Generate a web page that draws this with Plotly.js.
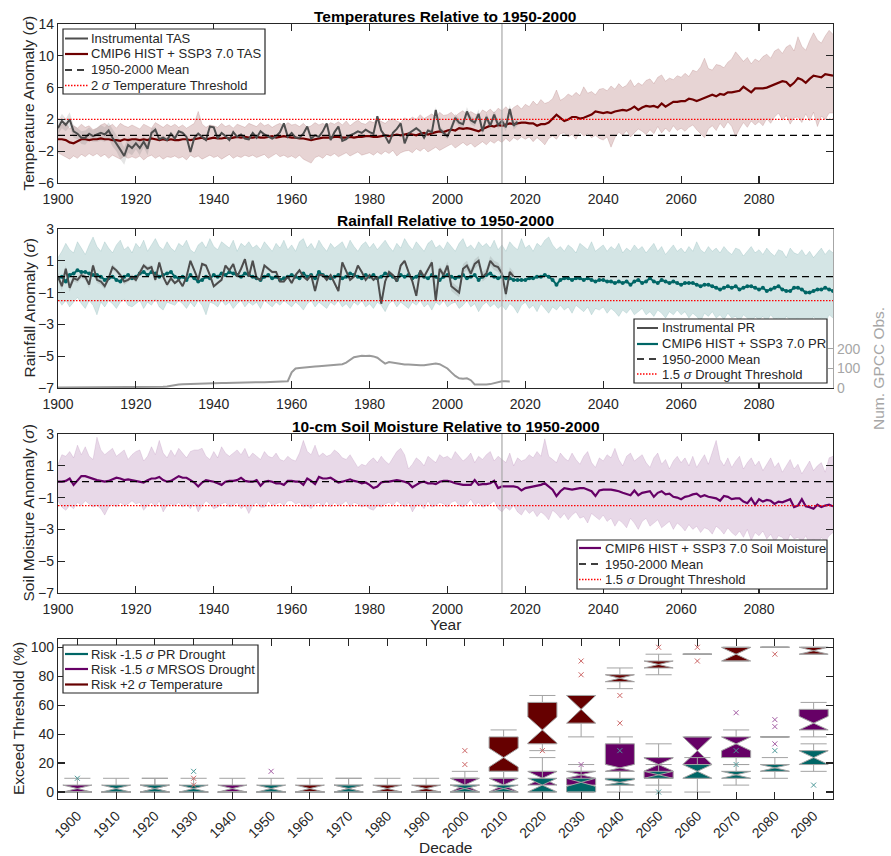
<!DOCTYPE html>
<html><head><meta charset="utf-8">
<script src="https://cdn.plot.ly/plotly-3.0.1.min.js"></script>
<style>html,body{margin:0;padding:0;background:#fff}#chart{width:891px;height:856px}</style>
</head><body><div id="chart"></div>
<script>
// ---------------- DATA ----------------
const firstYear = 1900, lastYear = 2099, splitYear = 2014;
const meanLevel = 0, tempThreshold = 2, droughtThreshold = -1.5;

// Temperature (sigma), CMIP6 multi-model mean and spread, 1900-2099
const tasMean = [
-0.5,-0.5,-0.6,-0.9,-1.0,-0.8,-0.5,-0.5,-0.6,-0.5,
-0.5,-0.4,-0.5,-0.5,-0.6,-0.6,-0.7,-0.5,-0.6,-0.5,
-0.5,-0.6,-0.5,-0.6,-0.4,-0.5,-0.6,-0.5,-0.6,-0.5,
-0.6,-0.6,-0.5,-0.5,-0.6,-0.5,-0.4,-0.3,-0.5,-0.4,
-0.3,-0.4,-0.4,-0.3,-0.4,-0.3,-0.2,-0.3,-0.2,-0.3,
-0.3,-0.2,-0.3,-0.3,-0.2,-0.1,-0.3,-0.2,-0.1,-0.2,
-0.3,-0.3,-0.4,-0.4,-0.5,-0.6,-0.5,-0.4,-0.3,-0.3,
-0.3,-0.2,-0.2,-0.3,-0.3,-0.2,-0.3,-0.2,-0.2,-0.1,
-0.1,-0.2,-0.2,-0.1,0.0,-0.1,0.0,0.1,0.0,0.1,
0.2,0.1,0.0,0.2,0.3,0.1,0.3,0.4,0.5,0.4,
0.6,0.7,0.6,0.9,0.8,0.9,0.8,0.6,0.5,0.8,
1.0,1.2,1.1,1.3,1.2,1.4,1.5,1.4,1.5,1.6,
1.6,1.5,1.5,1.2,1.4,1.4,1.6,2.1,2.6,2.2,
1.8,2.0,2.3,2.3,2.1,2.2,2.4,2.6,3.0,2.9,
2.8,2.9,2.8,3.0,3.1,3.2,3.1,3.3,3.6,3.2,
3.5,3.7,3.6,3.7,3.5,4.0,3.6,3.9,4.2,4.2,
4.3,4.3,4.6,4.5,4.3,4.5,4.7,5.0,5.1,4.9,
5.2,5.1,5.4,5.4,5.5,5.6,6.1,5.7,5.4,5.9,
5.9,5.9,6.0,6.2,6.3,6.5,6.8,6.7,6.2,6.6,
7.2,7.0,6.6,7.1,7.5,7.4,7.3,7.7,7.6,7.5];
const tasUpper = [
1.0,1.3,1.6,0.8,1.2,0.9,1.4,1.0,1.2,0.7,
0.9,1.3,1.5,1.1,1.4,0.9,1.5,1.2,1.0,1.3,
1.1,0.8,1.4,1.2,0.9,1.6,1.3,1.0,1.4,1.1,
1.4,1.0,1.3,0.9,1.2,1.5,3.0,1.4,1.0,1.3,
1.2,1.0,1.5,1.1,1.3,0.9,1.4,1.2,1.0,1.5,
1.3,1.1,1.6,1.2,1.4,1.0,1.3,1.5,1.1,1.6,
1.3,1.4,1.1,1.5,1.0,1.2,1.6,1.3,1.5,1.2,
1.6,1.4,1.7,1.3,1.8,1.2,1.6,1.9,1.5,1.4,
1.8,1.6,2.0,1.7,1.5,1.9,2.1,1.8,1.6,2.2,
1.9,2.3,2.0,2.6,2.1,2.4,2.7,2.2,2.9,2.5,
2.6,2.9,2.4,2.8,3.1,2.6,3.0,2.7,2.5,3.2,
2.9,3.3,2.8,3.4,3.1,3.6,3.0,3.5,3.8,3.3,
3.9,3.6,4.3,3.8,4.5,4.0,4.2,4.6,5.7,4.4,
4.7,5.2,4.9,5.4,5.0,6.1,5.3,5.5,5.1,5.8,
5.9,5.6,6.2,5.8,6.5,6.0,6.3,7.0,6.1,6.6,
6.3,6.9,7.1,6.5,7.3,7.6,6.8,7.2,7.0,7.5,
7.3,7.8,7.4,8.2,8.0,8.6,9.7,8.4,8.2,8.9,
8.8,8.5,9.2,9.6,10.5,9.9,9.3,9.8,9.0,9.6,
9.3,9.9,10.2,9.7,10.6,10.9,10.3,11.1,11.4,10.6,
12.4,11.2,10.7,11.9,12.9,12.0,11.6,12.5,13.2,12.7];
const tasLower = [
-2.2,-2.5,-2.8,-3.0,-2.6,-2.9,-2.4,-2.7,-2.3,-2.6,
-2.3,-2.7,-2.4,-2.9,-2.5,-2.8,-3.0,-2.6,-2.9,-2.7,
-2.9,-2.6,-3.1,-2.7,-2.5,-2.9,-2.6,-3.0,-2.7,-2.8,
-2.6,-2.9,-2.7,-3.1,-2.5,-2.8,-2.6,-3.0,-2.7,-2.5,
-2.8,-2.6,-3.0,-2.7,-2.4,-2.9,-2.6,-2.8,-2.5,-2.7,
-2.5,-2.8,-2.6,-2.4,-2.9,-2.6,-2.3,-2.7,-2.5,-2.8,
-2.6,-2.9,-2.5,-3.0,-3.2,-3.5,-2.8,-2.6,-2.9,-2.4,
-2.6,-2.3,-2.7,-2.5,-2.2,-2.6,-2.4,-2.1,-2.5,-2.3,
-2.2,-2.5,-2.1,-2.4,-2.0,-2.3,-1.9,-2.6,-2.2,-2.0,
-1.9,-2.2,-1.7,-2.0,-1.6,-2.1,-1.8,-1.5,-1.9,-1.6,
-1.4,-1.1,-1.6,-1.2,-0.9,-1.3,-1.0,-1.5,-1.1,-0.8,
-1.2,-0.7,-1.0,-0.6,-0.9,-0.4,-0.8,-0.3,-0.6,-0.2,
-0.5,-0.2,-0.8,-0.3,-0.7,-1.2,-0.4,-0.1,-0.5,0.2,
0.3,-0.2,0.1,-0.5,0.4,-0.1,0.2,-0.3,0.0,-0.4,
-0.6,-0.2,-1.5,-0.3,0.4,0.0,0.6,-0.2,0.3,0.8,
0.5,0.1,0.7,0.2,1.1,0.3,0.9,0.4,1.2,0.6,
0.9,0.5,1.0,1.3,0.7,0.2,-0.3,0.8,1.2,0.6,
1.5,0.9,1.7,1.1,-0.2,0.8,1.6,1.0,1.8,1.3,
1.7,1.2,2.1,1.5,2.3,2.8,1.9,2.5,1.4,2.2,
2.3,1.6,2.7,1.8,2.9,1.1,2.4,2.0,2.8,2.8];

// Instrumental temperature (sigma), 1900-2018, and its uncertainty half-width
const tasInst = [
0.9,1.8,1.3,2.0,0.5,0.2,-0.3,-0.3,0.2,-0.1,
0.1,0.3,0.1,0.6,-0.3,-1.0,-1.8,-2.6,-1.2,-1.6,
-1.0,-1.6,-0.8,-1.7,0.3,0.7,-0.5,-0.3,-0.6,0.2,
-0.4,0.5,0.3,-0.2,-2.1,-0.3,0.2,-0.2,-0.6,1.1,
1.0,-0.4,0.3,-0.1,-0.6,0.4,-0.2,0.1,-0.4,-0.5,
0.3,-0.3,0.5,0.1,-0.2,-0.4,-0.1,0.4,1.5,-0.2,
0.3,-0.3,-0.3,0.2,1.1,-0.4,0.0,-0.2,0.5,1.5,
-0.6,0.4,1.1,-0.7,-0.5,0.0,0.2,0.5,0.3,0.7,
0.4,0.2,2.4,0.6,-0.1,-1.0,0.3,0.8,1.5,-1.0,
0.2,0.6,0.9,0.5,-0.3,0.6,0.4,3.2,0.8,0.3,
-0.1,0.9,2.2,1.6,1.4,3.0,1.9,1.6,2.7,0.5,
2.3,1.2,2.6,1.3,1.8,1.0,3.3,1.2,1.7];
const tasInstSpread = [
0.8,0.9,0.8,0.9,0.8,0.7,0.8,0.9,0.8,0.7,
0.9,1.0,0.9,1.0,1.1,1.0,1.2,1.1,1.0,0.9,
0.8,0.9,0.7,0.8,0.6,0.4,0.3,0.3,0.3,0.3,
0.3,0.2,0.2,0.2,0.2,0.2,0.2,0.2,0.2,0.2,
0.15,0.15,0.15,0.15,0.15,0.15,0.15,0.15,0.15,0.15,
0.15,0.15,0.15,0.15,0.15,0.15,0.15,0.15,0.15,0.15,
0.15,0.15,0.15,0.15,0.15,0.15,0.15,0.15,0.15,0.15,
0.15,0.15,0.15,0.15,0.15,0.15,0.15,0.15,0.15,0.15,
0.15,0.15,0.15,0.15,0.15,0.15,0.15,0.15,0.15,0.15,
0.15,0.15,0.2,0.2,0.2,0.25,0.3,0.35,0.35,0.4,
0.4,0.45,0.5,0.5,0.5,0.55,0.5,0.5,0.55,0.5,
0.5,0.5,0.55,0.5,0.5,0.5,0.55,0.5,0.5];

// Rainfall (sigma), CMIP6 mean and spread, 1900-2099
const prMean = [
-0.1,0.0,-0.3,0.1,0.2,0.4,0.3,0.3,0.2,0.1,
0.1,0.0,-0.2,-0.1,0.0,-0.2,-0.3,0.0,0.1,-0.1,
0.0,0.2,0.3,0.1,0.3,0.2,0.0,0.1,0.2,0.3,
0.0,-0.1,0.0,-0.2,0.1,-0.1,-0.3,-0.2,0.0,-0.1,
0.1,0.0,0.2,0.1,0.3,0.2,0.1,0.0,0.2,0.1,
0.0,-0.1,-0.2,0.0,0.1,-0.1,0.0,-0.2,-0.1,0.0,
0.1,0.0,-0.1,0.2,0.0,0.1,-0.1,0.3,0.1,0.0,
-0.1,0.0,0.1,-0.1,0.0,0.2,0.1,0.0,-0.1,0.1,
0.0,0.1,-0.1,0.0,0.2,0.1,0.0,-0.2,0.1,0.0,
0.1,-0.1,0.0,0.2,0.0,-0.1,0.1,0.0,-0.2,0.0,
0.1,0.0,-0.1,0.0,0.1,-0.1,0.0,0.1,-0.2,0.0,
0.1,0.2,0.0,-0.1,0.0,-0.1,-0.1,-0.2,-0.2,-0.2,
-0.2,-0.1,-0.1,0.0,0.0,0.1,0.0,-0.2,-0.5,-0.2,
-0.1,-0.1,-0.2,-0.1,-0.1,-0.2,-0.1,-0.2,-0.3,-0.2,
-0.2,-0.3,-0.3,-0.4,-0.3,-0.4,-0.3,-0.5,-0.3,-0.2,
-0.4,-0.3,-0.1,-0.3,-0.4,-0.2,-0.3,-0.4,-0.3,-0.4,
-0.5,-0.4,-0.4,-0.4,-0.5,-0.6,-0.5,-0.5,-0.6,-0.7,
-0.8,-0.7,-0.6,-0.7,-0.6,-0.8,-0.7,-0.6,-0.6,-0.7,
-0.8,-0.7,-0.9,-0.8,-0.7,-0.6,-0.8,-0.9,-0.9,-0.7,
-0.7,-0.8,-1.0,-1.0,-0.9,-0.8,-0.8,-0.7,-0.8,-0.9];
const prUpper = [
1.2,1.6,2.1,1.7,1.5,2.2,1.8,1.4,2.0,2.5,
1.9,1.6,2.2,1.8,1.5,2.0,2.3,1.7,1.9,1.5,
2.1,1.8,2.3,1.6,2.0,2.4,1.9,1.7,2.2,1.8,
1.6,2.1,1.9,2.3,1.7,1.5,2.0,2.2,1.8,2.4,
1.9,1.7,2.2,2.0,1.8,2.3,1.6,2.1,1.9,2.2,
1.8,2.0,1.7,2.2,1.9,1.6,2.1,1.8,2.3,1.7,
2.0,1.6,2.2,2.4,1.8,2.1,1.7,2.3,1.9,1.6,
2.1,1.8,2.0,2.2,1.7,2.3,1.9,1.6,2.0,2.2,
1.8,2.1,1.7,2.0,2.3,1.9,1.6,2.1,1.8,2.4,
2.0,1.7,2.2,1.9,1.6,2.1,2.3,1.8,2.0,1.7,
2.2,1.9,1.6,2.1,2.4,1.8,2.0,1.7,2.2,1.9,
2.1,1.8,2.3,1.7,2.0,1.6,2.2,1.9,1.7,2.4,
1.8,2.0,1.6,2.1,1.9,2.3,2.5,2.0,1.7,1.9,
1.6,2.0,1.8,1.5,2.1,1.9,1.7,2.2,1.6,1.8,
2.0,1.6,1.9,1.7,2.1,1.5,1.8,1.6,2.0,1.7,
1.9,1.5,1.8,2.1,1.6,1.9,1.4,1.7,2.0,1.6,
1.8,1.5,1.9,1.6,2.2,1.7,1.5,1.9,1.6,1.8,
1.5,1.9,1.6,1.4,1.8,1.7,1.3,1.6,1.9,1.5,
1.7,1.4,1.8,1.5,1.3,1.7,1.6,1.2,1.8,1.5,
1.4,1.7,1.3,1.6,1.2,1.5,1.8,1.4,1.7,1.5];
const prLower = [
-1.4,-1.8,-1.5,-1.9,-1.6,-1.3,-1.7,-2.0,-1.5,-1.8,
-2.4,-1.6,-1.9,-1.5,-1.7,-2.0,-1.6,-1.4,-1.8,-1.9,
-1.7,-1.5,-2.0,-1.6,-1.8,-1.4,-1.9,-2.1,-1.6,-1.7,
-1.8,-1.5,-1.7,-2.0,-1.6,-1.9,-1.5,-1.8,-2.4,-1.6,
-1.7,-1.9,-1.5,-1.8,-1.6,-2.0,-1.7,-1.5,-1.9,-1.6,
-1.8,-1.6,-2.0,-1.5,-1.7,-1.9,-1.6,-1.8,-1.5,-1.7,
-1.9,-1.6,-1.8,-2.1,-1.7,-1.5,-1.9,-1.6,-1.8,-2.0,
-1.6,-1.8,-1.5,-1.9,-1.7,-2.0,-1.6,-1.8,-1.5,-1.9,
-1.7,-2.0,-1.6,-1.8,-2.2,-1.7,-1.5,-1.9,-1.6,-1.8,
-2.0,-1.6,-1.8,-1.5,-1.9,-1.7,-2.1,-1.6,-1.8,-1.5,
-1.9,-1.7,-1.6,-2.0,-1.8,-1.5,-1.9,-1.7,-2.2,-1.8,
-1.6,-1.9,-1.7,-2.0,-1.8,-2.1,-1.7,-1.9,-2.3,-1.8,
-1.6,-2.0,-1.8,-2.2,-1.7,-2.0,-2.3,-1.9,-2.1,-1.8,
-2.1,-1.9,-2.3,-1.8,-2.0,-2.2,-1.9,-2.4,-2.0,-2.1,
-1.9,-2.3,-2.0,-2.2,-2.5,-2.1,-2.3,-2.0,-2.4,-2.2,
-2.0,-2.4,-2.2,-2.5,-2.1,-2.3,-2.6,-2.2,-2.4,-2.1,
-2.4,-2.2,-2.6,-2.3,-2.5,-2.8,-2.3,-2.5,-2.2,-2.6,
-2.4,-2.7,-2.3,-2.6,-2.5,-2.8,-2.4,-2.6,-2.9,-2.5,
-2.7,-2.5,-2.8,-2.4,-2.7,-2.6,-3.0,-2.5,-2.7,-2.8,
-2.6,-2.9,-2.7,-3.0,-2.5,-2.8,-2.6,-2.9,-2.4,-2.6];

// Instrumental rainfall (sigma), 1900-2017, and its half-width
const prInst = [
0.0,-0.6,0.5,-0.7,-0.1,-0.2,0.1,0.0,-0.5,0.7,
-0.2,-0.3,-0.6,-0.1,0.6,0.4,0.1,-0.3,-0.2,0.0,
-0.2,0.3,0.7,0.5,0.6,-0.2,0.9,0.0,-0.5,-0.1,
-0.4,-0.2,-0.6,0.0,1.0,0.4,-0.2,0.8,0.7,0.1,
-0.6,-0.4,-0.2,0.7,0.4,0.8,0.0,0.5,1.1,0.0,
1.0,-0.1,-0.2,0.7,0.5,0.3,0.3,-0.3,-0.3,0.0,
-0.4,0.1,0.4,0.0,-0.2,0.1,-0.9,0.1,0.1,-0.2,
0.1,-0.4,-0.9,0.9,0.4,-0.2,0.0,0.7,0.3,-0.2,
0.1,-0.2,0.0,-1.7,-0.3,0.3,0.1,-0.3,0.7,1.0,
0.3,-0.3,-1.2,0.4,0.0,0.5,0.9,-1.5,0.5,0.1,
0.7,-0.6,-0.8,-1.0,0.5,0.7,0.2,0.8,1.0,0.0,
0.2,1.0,0.7,0.6,0.2,-1.1,0.3,0.0];
const prInstSpread = [
0.25,0.25,0.2,0.25,0.2,0.2,0.2,0.2,0.25,0.2,
0.2,0.2,0.2,0.15,0.2,0.15,0.15,0.2,0.15,0.15,
0.15,0.15,0.15,0.15,0.15,0.15,0.15,0.15,0.15,0.15,
0.1,0.1,0.1,0.1,0.1,0.1,0.1,0.1,0.1,0.1,
0.1,0.1,0.1,0.1,0.1,0.1,0.1,0.1,0.1,0.1,
0.1,0.1,0.1,0.1,0.1,0.1,0.1,0.1,0.1,0.1,
0.1,0.1,0.1,0.1,0.1,0.1,0.1,0.1,0.1,0.1,
0.1,0.1,0.1,0.1,0.1,0.1,0.1,0.1,0.1,0.1,
0.1,0.1,0.1,0.1,0.1,0.1,0.1,0.1,0.1,0.1,
0.1,0.1,0.15,0.15,0.15,0.15,0.2,0.2,0.2,0.25,
0.25,0.3,0.3,0.3,0.3,0.3,0.3,0.3,0.3,0.3,
0.3,0.3,0.3,0.3,0.3,0.3,0.3,0.3];

// Number of GPCC observations, 1900-2016
const gpccObs = [
3,3,3,3,3,3,3,3,3,3,
3,3,3,3,3,3,3,3,3,3,
3,3,3,3,3,3,4,6,8,12,
16,18,19,20,20,21,21,22,22,22,
24,24,25,25,26,26,27,27,28,28,
29,29,30,30,31,31,32,33,32,35,
80,100,103,104,106,108,110,112,114,116,
118,118,120,122,130,145,158,162,165,164,
165,162,155,140,125,133,130,125,122,120,
120,118,118,116,117,120,125,126,122,110,
100,80,62,50,48,50,40,18,17,17,
18,20,25,30,34,34,33];

// 10-cm soil moisture (sigma), CMIP6 mean and spread, 1900-2099
const soilMean = [
0.0,0.0,0.05,0.2,-0.2,0.1,0.35,0.35,0.25,0.15,
0.1,0.05,0.0,0.05,0.15,0.25,0.2,0.1,0.15,0.1,
0.05,0.0,-0.05,0.1,0.2,0.2,0.3,0.1,0.0,0.05,
0.2,0.35,0.25,0.25,0.1,-0.05,-0.3,-0.05,0.1,0.05,
0.0,-0.1,-0.2,0.0,0.05,0.05,0.1,0.25,0.05,0.0,
0.0,0.1,-0.25,0.0,0.05,0.0,-0.1,-0.1,-0.2,0.05,
0.05,0.0,0.0,-0.2,0.2,0.05,-0.15,0.3,0.2,0.2,
0.25,0.1,-0.05,0.0,0.1,0.15,0.05,0.0,-0.1,-0.05,
-0.2,-0.4,-0.3,-0.05,0.0,0.0,0.05,0.1,0.05,0.0,
-0.1,-0.35,-0.2,-0.05,0.0,-0.1,-0.1,-0.15,0.0,0.05,
0.05,0.0,-0.1,-0.15,-0.2,-0.2,-0.2,0.1,-0.2,-0.15,
-0.15,-0.1,0.05,-0.4,-0.3,-0.3,-0.3,-0.3,-0.35,-0.55,
-0.4,-0.35,-0.3,-0.25,-0.2,-0.1,-0.3,-0.5,-0.9,-0.6,
-0.4,-0.45,-0.5,-0.45,-0.4,-0.4,-0.5,-0.6,-0.9,-0.55,
-0.5,-0.5,-0.5,-0.55,-0.6,-0.7,-0.8,-0.85,-0.55,-0.85,
-0.7,-0.65,-0.6,-0.95,-0.7,-0.6,-0.8,-0.75,-0.95,-1.0,
-1.1,-0.95,-0.9,-0.8,-0.75,-0.95,-0.85,-0.95,-1.0,-1.05,
-1.2,-0.9,-0.95,-1.1,-1.05,-1.05,-1.25,-1.35,-1.05,-1.45,
-1.1,-1.25,-1.15,-1.2,-1.4,-1.25,-1.3,-1.2,-1.1,-1.6,
-1.5,-1.1,-1.55,-1.6,-1.7,-1.45,-1.6,-1.5,-1.45,-1.55];
const soilUpper = [
1.1,1.7,1.6,1.9,1.5,2.3,1.7,2.2,1.6,1.4,
2.8,2.0,1.7,1.9,2.1,1.6,1.8,2.0,1.4,1.7,
1.9,2.0,1.3,1.6,2.2,1.7,2.6,1.8,1.5,2.0,
1.6,2.1,1.8,1.5,1.9,2.0,2.0,2.1,1.6,1.4,
1.9,1.5,2.2,1.8,1.6,1.8,2.0,1.7,2.1,1.5,
1.8,1.6,1.4,1.9,1.6,1.5,1.8,1.4,1.3,1.6,
1.4,1.3,1.8,2.6,1.9,1.7,2.3,1.6,1.8,1.6,
1.7,2.0,1.8,1.5,1.4,1.7,1.3,0.9,1.1,1.0,
1.3,1.5,1.2,1.6,1.3,1.1,1.5,1.9,2.1,1.7,
0.8,1.1,1.5,1.3,1.0,1.6,1.4,1.2,1.7,1.5,
1.6,1.4,1.9,1.6,1.3,1.5,1.8,1.2,1.6,1.4,
1.7,1.9,1.3,1.6,1.4,1.2,1.8,1.0,1.5,1.3,
1.4,1.7,1.5,1.9,1.6,2.7,1.6,1.4,1.2,1.8,
1.5,1.3,1.8,1.4,1.1,1.6,1.9,1.2,0.9,1.5,
1.3,1.7,1.5,2.1,1.4,1.0,1.6,1.8,1.3,1.5,
1.7,1.2,0.9,1.5,1.8,1.1,1.4,0.8,1.3,1.6,
1.2,1.5,1.0,1.6,0.9,1.3,1.7,1.1,1.9,2.6,
1.4,1.0,1.5,0.9,1.3,1.6,0.8,1.2,1.5,1.0,
1.3,0.7,1.1,1.5,0.9,1.2,0.6,1.0,1.4,0.8,
1.1,0.5,0.9,1.3,0.7,1.0,1.2,0.6,1.5,1.6];
const soilLower = [
-1.2,-1.6,-1.8,-1.5,-1.7,-1.3,-1.5,-1.2,-1.4,-1.6,
-1.5,-1.7,-2.1,-1.6,-1.4,-1.6,-1.3,-1.5,-1.4,-1.2,
-1.4,-1.3,-1.8,-1.5,-1.3,-1.6,-1.2,-1.9,-1.5,-1.4,
-1.5,-1.3,-1.6,-1.4,-1.7,-1.3,-1.9,-1.5,-1.2,-1.4,
-1.7,-1.6,-1.4,-1.3,-1.6,-1.5,-1.3,-1.7,-1.5,-2.0,
-1.5,-1.3,-1.6,-1.6,-1.2,-1.5,-1.4,-1.3,-1.5,-1.2,
-1.2,-1.4,-1.3,-1.6,-1.5,-1.7,-1.4,-1.3,-1.6,-1.2,
-1.6,-1.3,-1.5,-1.4,-1.2,-1.6,-1.3,-1.4,-1.6,-1.5,
-1.7,-1.8,-1.5,-1.6,-1.4,-1.3,-1.5,-1.2,-1.4,-1.6,
-1.3,-1.9,-1.5,-1.4,-1.7,-1.2,-1.6,-1.5,-1.3,-1.4,
-1.6,-1.3,-1.2,-1.5,-1.6,-1.4,-1.1,-1.5,-1.3,-1.6,
-1.5,-1.4,-1.2,-1.7,-1.9,-1.6,-1.8,-1.5,-1.9,-2.1,
-1.7,-2.0,-1.8,-2.2,-1.9,-2.1,-2.4,-1.8,-2.0,-2.3,
-2.0,-2.4,-2.1,-1.9,-2.3,-2.2,-2.6,-2.0,-2.2,-2.4,
-2.1,-2.5,-2.3,-2.8,-2.4,-2.6,-2.9,-2.3,-2.6,-3.0,
-2.5,-2.3,-2.8,-2.6,-2.4,-2.9,-2.7,-2.5,-3.0,-2.6,
-2.8,-3.1,-2.7,-3.0,-2.8,-3.2,-2.9,-3.0,-3.3,-2.8,
-3.0,-3.3,-2.9,-3.2,-3.4,-3.1,-3.5,-3.0,-3.7,-3.2,
-3.4,-3.1,-3.6,-3.3,-3.8,-3.4,-3.5,-3.9,-3.3,-3.6,
-3.5,-3.8,-3.4,-3.9,-3.6,-4.0,-3.5,-3.8,-3.4,-3.2];

// Decadal risk of exceeding threshold (%), box statistics
const decades = ['1900','1910','1920','1930','1940','1950','1960','1970','1980','1990',
                 '2000','2010','2020','2030','2040','2050','2060','2070','2080','2090'];
// PR drought (teal)
const prQ1  = [0,0,0,0,0,0,0,0,0,0, 0,0,0,0,4.8,9.5,9.5,9.5,14.3,19.0];
const prMed = [0,2.4,2.4,2.4,0,2.4,0,2.4,0,0, 2.4,2.4,4.8,6.7,6.7,11.9,14.3,11.9,16.7,23.8];
const prQ3  = [0,4.8,4.8,4.8,0,4.8,0,4.8,0,0, 4.8,4.8,9.5,9.5,9.5,14.3,19.0,14.3,19.0,28.6];
const prLo  = [0,0,0,0,0,0,0,0,0,0, 0,0,0,0,0,0,0,4.8,9.5,14.3];
const prHi  = [0,9.5,9.5,9.5,0,9.5,0,9.5,0,0, 9.5,9.5,14.3,14.3,14.3,19.0,23.8,19.0,23.8,33.3];
const prNotch = [0,2.4,2.4,2.4,0,2.4,0,2.4,0,0, 2.4,2.4,4.7,2.8,1.9,2.4,4.7,2.4,2.3,4.7];
const prOutDec = ['1900','1930','2040','2050','2070','2070','2080','2090'];
const prOutVal = [9.5,14.3,28.6,0,28.6,19.0,28.6,4.8];
// MRSOS drought (purple)
const smQ1  = [0,0,0,0,0,0,0,0,0,0, 0,0,4.8,4.8,14.3,9.5,19.0,23.8,38.1,42.9];
const smMed = [2.4,0,2.4,0,2.4,0,0,2.4,0,0, 4.8,4.8,9.5,11.9,16.7,19.0,28.6,33.3,38.1,47.6];
const smQ3  = [4.8,0,4.8,0,4.8,0,0,4.8,0,0, 9.5,9.5,14.3,14.3,33.3,23.8,38.1,38.1,38.1,57.1];
const smLo  = [0,0,0,0,0,0,0,0,0,0, 0,0,0,0,4.8,4.8,9.5,19.0,38.1,38.1];
const smHi  = [9.5,0,9.5,0,9.5,0,0,9.5,0,0, 14.3,14.3,23.8,19.0,38.1,33.3,38.1,42.9,38.1,61.9];
const smNotch = [2.4,0,2.4,0,2.4,0,0,2.4,0,0, 4.7,4.7,4.7,2.4,2.4,4.5,9.5,4.7,0,4.7];
const smOutDec = ['1950','2030','2070','2080','2080','2080'];
const smOutVal = [14.3,19.0,54.8,50.0,45.2,33.3];
// +2 sigma temperature (dark red)
const tQ1  = [0,0,0,0,0,0,0,0,0,0, 0,14.3,33.3,47.6,76.2,85.7,95.2,90.5,100,95.2];
const tMed = [0,0,0,0,0,0,2.4,0,2.4,2.4, 2.4,23.8,42.9,57.1,78.6,88.1,95.2,95.2,100,97.6];
const tQ3  = [0,0,0,0,0,0,4.8,0,4.8,4.8, 4.8,38.1,61.9,66.7,81.0,90.5,95.2,100,100,100];
const tLo  = [0,0,0,0,0,0,0,0,0,0, 0,9.5,28.6,38.1,71.4,81.0,95.2,90.5,100,95.2];
const tHi  = [0,0,0,0,0,0,9.5,0,9.5,9.5, 9.5,42.9,66.7,66.7,85.7,95.2,95.2,100,100,100];
const tNotch = [0,0,0,0,0,0,2.4,0,2.4,2.4, 2.4,6.5,9.0,9.5,2.4,2.4,0,4.7,0,2.4];
const tOutDec = ['1930','1930','2000','2000','2020','2030','2030','2040','2040','2050','2060','2060','2080'];
const tOutVal = [9.5,4.8,28.6,19.0,28.6,90.5,81.0,66.7,47.6,100,100,90.5,95.2];

// ---------------- STYLE / LAYOUT ----------------
const W = 891, H = 856;
const px = v => v / W, py = v => 1 - v / H;
const FONT = '"Liberation Sans", Arial, Helvetica, sans-serif';
const INK = '#262626';
const C_TAS = '#6e0000', C_PR = '#006666', C_SM = '#660066', C_INST = '#4d4d4d', C_GPCC = '#9a9a9a';
const DASH = '7px,5px', DOT = '1.5px,1.5px';
const yearsOf = arr => arr.map((_, i) => firstYear + i);
const yrs = yearsOf(tasMean), tasInstYrs = yearsOf(tasInst), prInstYrs = yearsOf(prInst), gpccYrs = yearsOf(gpccObs);
const plus = (a, s) => a.map((v, i) => v + s[i]);
const minus = (a, s) => a.map((v, i) => v - s[i]);

function band(x, lo, hi, xa, ya, fill, edge) {
  return [
    {x: x, y: lo, xaxis: xa, yaxis: ya, mode: 'lines', line: {width: edge ? 0.6 : 0, color: edge || 'rgba(0,0,0,0)'}, hoverinfo: 'skip', showlegend: false},
    {x: x, y: hi, xaxis: xa, yaxis: ya, mode: 'lines', fill: 'tonexty', fillcolor: fill, line: {width: edge ? 0.6 : 0, color: edge || 'rgba(0,0,0,0)'}, hoverinfo: 'skip', showlegend: false}
  ];
}
function hline(level, xa, ya, color, dash, width) {
  return {x: [firstYear, lastYear], y: [level, level], xaxis: xa, yaxis: ya, mode: 'lines',
          line: {color: color, dash: dash, width: width}, hoverinfo: 'skip', showlegend: false};
}
function boxTrace(q1, med, q3, lo, hi, notch, color) {
  return {type: 'box', x: decades, q1: q1, median: med, q3: q3, lowerfence: lo, upperfence: hi,
          notchspan: notch, notched: true, notchwidth: 0.5, width: 0.75, whiskerwidth: 0.9,
          xaxis: 'x4', yaxis: 'y4', fillcolor: color, line: {color: '#a3a3a3', width: 1},
          boxpoints: false, hoverinfo: 'skip', showlegend: false};
}
function outliers(xs, ys, color) {
  return {x: xs, y: ys, xaxis: 'x4', yaxis: 'y4', mode: 'markers', hoverinfo: 'skip', showlegend: false,
          marker: {symbol: 'x-thin-open', size: 5, color: color, line: {width: 1, color: color}}};
}

const traces = [].concat(
  // Panel 1
  band(yrs, tasLower, tasUpper, 'x', 'y', 'rgba(112,0,0,0.17)', 'rgba(112,0,0,0.22)'),
  band(tasInstYrs, minus(tasInst, tasInstSpread), plus(tasInst, tasInstSpread), 'x', 'y', 'rgba(120,120,120,0.2)', null),
  [{x: yrs, y: tasMean, xaxis: 'x', yaxis: 'y', mode: 'lines', line: {color: C_TAS, width: 2.2}, hoverinfo: 'skip', showlegend: false},
   {x: tasInstYrs, y: tasInst, xaxis: 'x', yaxis: 'y', mode: 'lines', line: {color: C_INST, width: 2}, hoverinfo: 'skip', showlegend: false},
   hline(meanLevel, 'x', 'y', '#000', DASH, 1.3),
   hline(tempThreshold, 'x', 'y', '#ff0000', DOT, 1.3)],
  // Panel 2
  band(yrs, prLower, prUpper, 'x2', 'y2', 'rgba(0,102,102,0.17)', 'rgba(0,102,102,0.2)'),
  band(prInstYrs, minus(prInst, prInstSpread), plus(prInst, prInstSpread), 'x2', 'y2', 'rgba(120,120,120,0.2)', null),
  [{x: yrs, y: prMean, xaxis: 'x2', yaxis: 'y2', mode: 'lines+markers', line: {color: C_PR, width: 2}, marker: {size: 4, color: C_PR}, hoverinfo: 'skip', showlegend: false},
   {x: prInstYrs, y: prInst, xaxis: 'x2', yaxis: 'y2', mode: 'lines', line: {color: C_INST, width: 2}, hoverinfo: 'skip', showlegend: false},
   hline(meanLevel, 'x2', 'y2', '#000', DASH, 1.3),
   hline(droughtThreshold, 'x2', 'y2', '#ff0000', DOT, 1.3),
   {x: gpccYrs, y: gpccObs, xaxis: 'x2', yaxis: 'y5', mode: 'lines', line: {color: C_GPCC, width: 2}, hoverinfo: 'skip', showlegend: false}],
  // Panel 3
  band(yrs, soilLower, soilUpper, 'x3', 'y3', 'rgba(102,0,102,0.15)', 'rgba(102,0,102,0.18)'),
  [{x: yrs, y: soilMean, xaxis: 'x3', yaxis: 'y3', mode: 'lines', line: {color: C_SM, width: 2.2}, hoverinfo: 'skip', showlegend: false},
   hline(meanLevel, 'x3', 'y3', '#000', DASH, 1.3),
   hline(droughtThreshold, 'x3', 'y3', '#ff0000', DOT, 1.3)],
  // Panel 4
  [boxTrace(tQ1, tMed, tQ3, tLo, tHi, tNotch, '#660000'),
   boxTrace(smQ1, smMed, smQ3, smLo, smHi, smNotch, C_SM),
   boxTrace(prQ1, prMed, prQ3, prLo, prHi, prNotch, C_PR),
   outliers(tOutDec, tOutVal, '#cc6666'),
   outliers(smOutDec, smOutVal, '#a35ca3'),
   outliers(prOutDec, prOutVal, '#4d9999')]
);

const xDom = [px(58), px(833)];
const yearTicks = [1900, 1920, 1940, 1960, 1980, 2000, 2020, 2040, 2060, 2080];
const baseAx = {showline: true, linecolor: INK, linewidth: 1.2, ticks: 'inside', ticklen: 7, tickcolor: INK,
  tickwidth: 1.2, mirror: 'ticks', showgrid: false, zeroline: false, tickfont: {size: 14, color: INK, family: FONT}, fixedrange: true};
const xYear = (anchor) => Object.assign({}, baseAx, {domain: xDom, anchor: anchor, range: [firstYear, lastYear], tickvals: yearTicks, ticklabelstandoff: 3});

const layout = {
  width: W, height: H, margin: {l: 0, r: 0, t: 0, b: 0}, paper_bgcolor: '#fff', plot_bgcolor: '#fff',
  font: {family: FONT, color: INK}, showlegend: false, boxmode: 'overlay',
  xaxis: xYear('y'),
  yaxis: Object.assign({}, baseAx, {domain: [py(183), py(24)], anchor: 'x', range: [-6, 14], tickvals: [-6, -2, 2, 6, 10, 14]}),
  xaxis2: xYear('y2'),
  yaxis2: Object.assign({}, baseAx, {domain: [py(388), py(229)], anchor: 'x2', range: [-7, 3], tickvals: [-7, -5, -3, -1, 1, 3], mirror: false}),
  yaxis5: {overlaying: 'y2', anchor: 'x2', side: 'right', range: [0, 815], tickvals: [0, 100, 200], showline: true,
           linecolor: '#a6a6a6', linewidth: 1.2, ticks: 'inside', ticklen: 5, tickcolor: '#a6a6a6', showgrid: false, zeroline: false,
           tickfont: {size: 14, color: '#a6a6a6', family: FONT}, fixedrange: true},
  xaxis3: xYear('y3'),
  yaxis3: Object.assign({}, baseAx, {domain: [py(593), py(434)], anchor: 'x3', range: [-7, 3], tickvals: [-7, -5, -3, -1, 1, 3]}),
  xaxis4: Object.assign({}, baseAx, {domain: xDom, anchor: 'y4', type: 'category', categoryorder: 'array', categoryarray: decades,
           range: [-0.5, decades.length - 0.5], tickangle: -45, ticklabelstandoff: 2}),
  yaxis4: Object.assign({}, baseAx, {domain: [py(799), py(639)], anchor: 'x4', range: [-4.8, 105.7], tickvals: [0, 20, 40, 60, 80, 100]}),
  shapes: [], annotations: []
};

// split-year marker
['', '2', '3'].forEach(k => layout.shapes.push({type: 'line', xref: 'x' + k, yref: 'y' + k + ' domain',
  x0: splitYear, x1: splitYear, y0: 0, y1: 1, line: {color: '#a8a8a8', width: 1.2}, layer: 'above'}));

// text annotations
function ann(text, x, y, opts) {
  layout.annotations.push(Object.assign({text: text, x: px(x), y: py(y), xref: 'paper', yref: 'paper', showarrow: false,
    xanchor: 'center', yanchor: 'middle', font: {size: 15.5, color: INK, family: FONT}}, opts || {}));
}
ann('<b>Temperatures Relative to 1950-2000</b>', 445.5, 16, {font: {size: 15.5, color: '#000', family: FONT}});
ann('<b>Rainfall Relative to 1950-2000</b>', 445.5, 221, {font: {size: 15.5, color: '#000', family: FONT}});
ann('<b>10-cm Soil Moisture Relative to 1950-2000</b>', 445.5, 426, {font: {size: 15.5, color: '#000', family: FONT}});
ann('Temperature Anomaly (<i>σ</i>)', 28, 103.5, {textangle: -90});
ann('Rainfall Anomaly (<i>σ</i>)', 29, 308.5, {textangle: -90});
ann('Soil Moisture Anomaly (<i>σ</i>)', 28, 513.5, {textangle: -90});
ann('Exceed Threshold (%)', 18, 719, {textangle: -90});
ann('Year', 445.5, 624);
ann('Decade', 445.5, 847);
ann('Num. GPCC Obs.', 878, 369, {textangle: -90, font: {size: 15.5, color: '#a6a6a6', family: FONT}});

// manual legends (layout positions in px)
function legendBox(b, lineX, textX, items) {
  layout.shapes.push({type: 'rect', xref: 'paper', yref: 'paper', x0: px(b[0]), x1: px(b[1]), y0: py(b[3]), y1: py(b[2]),
    fillcolor: '#fff', line: {color: INK, width: 1.2}, layer: 'above'});
  items.forEach(it => {
    layout.shapes.push({type: 'line', xref: 'paper', yref: 'paper', x0: px(lineX[0]), x1: px(lineX[1]), y0: py(it.y), y1: py(it.y),
      line: {color: it.c, width: it.w, dash: it.d || 'solid'}, layer: 'above'});
    layout.annotations.push({text: it.t, x: px(textX), y: py(it.y), xref: 'paper', yref: 'paper', showarrow: false,
      xanchor: 'left', yanchor: 'middle', font: {size: 13, color: INK, family: FONT}});
  });
}
legendBox([63, 265, 29, 94], [65, 88], 89, [
  {t: 'Instrumental TAS', c: C_INST, w: 2, y: 38.5},
  {t: 'CMIP6 HIST + SSP3 7.0 TAS', c: C_TAS, w: 2.2, y: 54},
  {t: '1950-2000 Mean', c: '#000', w: 1.3, d: DASH, y: 70},
  {t: '2 <i>σ</i> Temperature Threshold', c: '#ff0000', w: 1.3, d: DOT, y: 85.5}]);
legendBox([634, 827, 319, 383], [637, 658], 660, [
  {t: 'Instrumental PR', c: C_INST, w: 2, y: 328},
  {t: 'CMIP6 HIST + SSP3 7.0 PR', c: C_PR, w: 2.2, y: 344},
  {t: '1950-2000 Mean', c: '#000', w: 1.3, d: DASH, y: 359},
  {t: '1.5 <i>σ</i> Drought Threshold', c: '#ff0000', w: 1.3, d: DOT, y: 374}]);
legendBox([577, 827, 540, 589], [579, 601], 603, [
  {t: 'CMIP6 HIST + SSP3 7.0 Soil Moisture', c: C_SM, w: 2.2, y: 548},
  {t: '1950-2000 Mean', c: '#000', w: 1.3, d: DASH, y: 564},
  {t: '1.5 <i>σ</i> Drought Threshold', c: '#ff0000', w: 1.3, d: DOT, y: 579.5}]);
legendBox([63, 258, 645, 693], [65, 88], 89, [
  {t: 'Risk -1.5 <i>σ</i> PR Drought', c: C_PR, w: 2.2, y: 654},
  {t: 'Risk -1.5 <i>σ</i> MRSOS Drought', c: C_SM, w: 2.2, y: 669},
  {t: 'Risk +2 <i>σ</i> Temperature', c: '#660000', w: 2.2, y: 684.5}]);

Plotly.newPlot('chart', traces, layout, {staticPlot: true, displayModeBar: false});
</script></body></html>
